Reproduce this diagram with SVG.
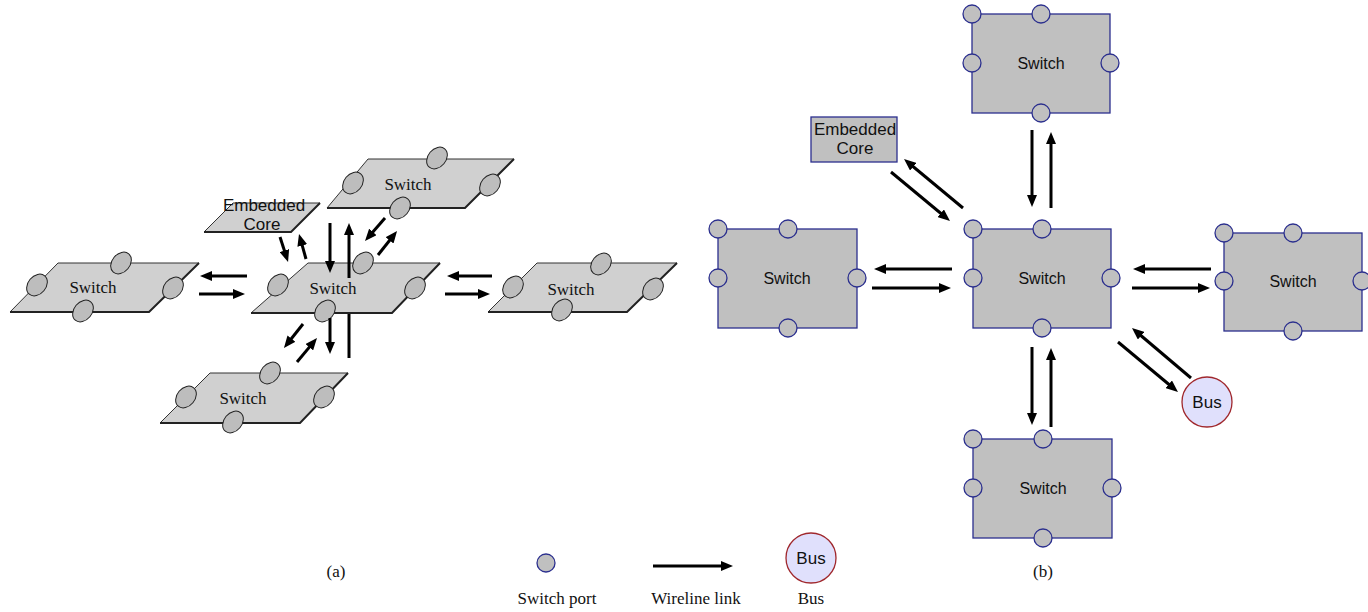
<svg xmlns="http://www.w3.org/2000/svg" width="1368" height="612" viewBox="0 0 1368 612">
<style>
.pg{fill:#d0d0d0;stroke:#333;stroke-width:1}
.sh{fill:none;stroke:#222;stroke-width:2}
.pa{fill:#bdbdbd;stroke:#222;stroke-width:1}
.sw{fill:#c0c0c0;stroke:#2b2f8e;stroke-width:1.3}
.pb{fill:#c0c0c0;stroke:#2b2f8e;stroke-width:1.3}
.bus{fill:#e0e0fc;stroke:#a0282d;stroke-width:1.3}
.ts{font-family:"Liberation Serif","Times New Roman",serif;font-size:17px;fill:#111;text-anchor:middle}
.ta{font-family:"Liberation Sans",Arial,sans-serif;font-size:16px;fill:#111;text-anchor:middle}
.te{font-family:"Liberation Sans",Arial,sans-serif;font-size:17px;fill:#111;text-anchor:middle}
.ar{fill:none;stroke:#000;stroke-width:3;marker-end:url(#ah)}
.ln{fill:none;stroke:#000;stroke-width:3}
</style>
<defs>
<marker id="ah" markerUnits="userSpaceOnUse" markerWidth="12" markerHeight="10" refX="5" refY="5" orient="auto" viewBox="0 0 12 10">
<path d="M0,0 L12,5 L0,10 z" fill="#000"/>
</marker>
</defs>
<rect width="1368" height="612" fill="#fff"/>

<!-- (a) -->
<g id="a-core">
<polygon class="pg" points="233,203 320,203 291,232 204,232"/>
<polyline class="sh" points="204,232 291,232 320,203"/>
<text class="te" x="264" y="211">Embedded</text>
<text class="te" x="262" y="230">Core</text>
</g>
<g id="a-switch-left">
<polygon class="pg" points="58,263 199,263 149,312 10,312"/>
<polyline class="sh" points="10,312 149,312 199,263"/>
<text class="ts" x="93" y="293">Switch</text>
<ellipse class="pa" rx="12" ry="9" transform="translate(121,263) rotate(-50)"/>
<ellipse class="pa" rx="12" ry="9" transform="translate(37,285) rotate(-50)"/>
<ellipse class="pa" rx="12" ry="9" transform="translate(173,288) rotate(-50)"/>
<ellipse class="pa" rx="12" ry="9" transform="translate(83,311) rotate(-50)"/>
</g>
<g id="a-switch-top">
<polygon class="pg" points="368,159 514,159 465,208 327,208"/>
<polyline class="sh" points="327,208 465,208 514,159"/>
<text class="ts" x="408" y="190">Switch</text>
<ellipse class="pa" rx="12" ry="9" transform="translate(437,158) rotate(-50)"/>
<ellipse class="pa" rx="12" ry="9" transform="translate(353,183) rotate(-50)"/>
<ellipse class="pa" rx="12" ry="9" transform="translate(490,185) rotate(-50)"/>
<ellipse class="pa" rx="12" ry="9" transform="translate(400,208) rotate(-50)"/>
</g>
<g id="a-switch-center">
<polygon class="pg" points="308,263 440,263 392,313 251,313"/>
<polyline class="sh" points="251,313 392,313 440,263"/>
<text class="ts" x="333" y="294">Switch</text>
<ellipse class="pa" rx="12" ry="9" transform="translate(363,263) rotate(-50)"/>
<ellipse class="pa" rx="12" ry="9" transform="translate(278,285) rotate(-50)"/>
<ellipse class="pa" rx="12" ry="9" transform="translate(415,288) rotate(-50)"/>
<ellipse class="pa" rx="12" ry="9" transform="translate(325,311) rotate(-50)"/>
</g>
<g id="a-switch-right">
<polygon class="pg" points="537,263 677,263 627,312 488,312"/>
<polyline class="sh" points="488,312 627,312 677,263"/>
<text class="ts" x="571" y="295">Switch</text>
<ellipse class="pa" rx="12" ry="9" transform="translate(601,264) rotate(-50)"/>
<ellipse class="pa" rx="12" ry="9" transform="translate(513,287) rotate(-50)"/>
<ellipse class="pa" rx="12" ry="9" transform="translate(653,289) rotate(-50)"/>
<ellipse class="pa" rx="12" ry="9" transform="translate(562,310) rotate(-50)"/>
</g>
<g id="a-switch-bottom">
<polygon class="pg" points="210,373 348,373 300,423 160,423"/>
<polyline class="sh" points="160,423 300,423 348,373"/>
<text class="ts" x="243" y="404">Switch</text>
<ellipse class="pa" rx="12" ry="9" transform="translate(270,373) rotate(-50)"/>
<ellipse class="pa" rx="12" ry="9" transform="translate(186,397) rotate(-50)"/>
<ellipse class="pa" rx="12" ry="9" transform="translate(324,397) rotate(-50)"/>
<ellipse class="pa" rx="12" ry="9" transform="translate(233,422) rotate(-50)"/>
</g>
<text class="ts" x="336" y="577">(a)</text>

<!-- (b) -->
<g id="b-core">
<rect class="sw" x="811" y="117" width="86" height="45"/>
<text class="te" x="855" y="135">Embedded</text>
<text class="te" x="855" y="154">Core</text>
</g>
<g id="b-switch-top">
<rect class="sw" x="972" y="14" width="138" height="99"/>
<text class="ta" x="1041" y="69">Switch</text>
<circle class="pb" cx="972" cy="14" r="9"/>
<circle class="pb" cx="1041" cy="14" r="9"/>
<circle class="pb" cx="972" cy="63" r="9"/>
<circle class="pb" cx="1110" cy="63" r="9"/>
<circle class="pb" cx="1041" cy="113" r="9"/>
</g>
<g id="b-switch-left">
<rect class="sw" x="718" y="229" width="139" height="99"/>
<text class="ta" x="787" y="284">Switch</text>
<circle class="pb" cx="718" cy="229" r="9"/>
<circle class="pb" cx="788" cy="229" r="9"/>
<circle class="pb" cx="718" cy="278" r="9"/>
<circle class="pb" cx="857" cy="278" r="9"/>
<circle class="pb" cx="788" cy="328" r="9"/>
</g>
<g id="b-switch-center">
<rect class="sw" x="973" y="229" width="138" height="99"/>
<text class="ta" x="1042" y="284">Switch</text>
<circle class="pb" cx="973" cy="229" r="9"/>
<circle class="pb" cx="1042" cy="229" r="9"/>
<circle class="pb" cx="973" cy="278" r="9"/>
<circle class="pb" cx="1111" cy="278" r="9"/>
<circle class="pb" cx="1042" cy="328" r="9"/>
</g>
<g id="b-switch-right">
<rect class="sw" x="1224" y="233" width="138" height="98"/>
<text class="ta" x="1293" y="287">Switch</text>
<circle class="pb" cx="1224" cy="233" r="9"/>
<circle class="pb" cx="1293" cy="233" r="9"/>
<circle class="pb" cx="1224" cy="281" r="9"/>
<circle class="pb" cx="1362" cy="281" r="9"/>
<circle class="pb" cx="1293" cy="331" r="9"/>
</g>
<g id="b-switch-bottom">
<rect class="sw" x="973" y="439" width="139" height="99"/>
<text class="ta" x="1043" y="494">Switch</text>
<circle class="pb" cx="973" cy="439" r="9"/>
<circle class="pb" cx="1043" cy="439" r="9"/>
<circle class="pb" cx="973" cy="488" r="9"/>
<circle class="pb" cx="1112" cy="488" r="9"/>
<circle class="pb" cx="1043" cy="538" r="9"/>
</g>
<g id="b-bus">
<circle class="bus" cx="1207" cy="402" r="25"/>
<text class="te" x="1207" y="408">Bus</text>
</g>
<text class="ts" x="1043" y="577">(b)</text>

<!-- connectors -->
<g id="connectors">
<line class="ar" x1="247" y1="276" x2="207" y2="276"/>
<line class="ar" x1="199" y1="294" x2="238" y2="294"/>
<line class="ar" x1="492" y1="276" x2="454" y2="276"/>
<line class="ar" x1="445" y1="294" x2="483" y2="294"/>
<line class="ar" x1="280" y1="237" x2="285.9" y2="255.3"/>
<line class="ar" x1="306" y1="259" x2="300.9" y2="240.7"/>
<line class="ar" x1="330" y1="223" x2="330" y2="266"/>
<line class="ar" x1="349" y1="278" x2="349" y2="230"/>
<line class="ln" x1="349" y1="314" x2="349" y2="358"/>
<line class="ar" x1="385" y1="218" x2="369.6" y2="235.7"/>
<line class="ar" x1="378" y1="255" x2="392.7" y2="236.5"/>
<line class="ar" x1="303" y1="324" x2="288.3" y2="342.5"/>
<line class="ar" x1="297" y1="362" x2="312.5" y2="343.4"/>
<line class="ar" x1="330" y1="318" x2="330" y2="347"/>

<line class="ar" x1="1032" y1="130" x2="1032" y2="200"/>
<line class="ar" x1="1051" y1="208" x2="1051" y2="139"/>
<line class="ar" x1="891" y1="172" x2="944.6" y2="216.5"/>
<line class="ar" x1="963" y1="208" x2="909.4" y2="163.5"/>
<line class="ar" x1="952" y1="269" x2="881" y2="269"/>
<line class="ar" x1="872" y1="288" x2="944" y2="288"/>
<line class="ar" x1="1211" y1="269" x2="1140" y2="269"/>
<line class="ar" x1="1132" y1="288" x2="1203" y2="288"/>
<line class="ar" x1="1118" y1="342" x2="1172.6" y2="387.5"/>
<line class="ar" x1="1191" y1="378" x2="1137.3" y2="332.5"/>
<line class="ar" x1="1032" y1="347" x2="1032" y2="418"/>
<line class="ar" x1="1051" y1="427" x2="1051" y2="355"/>
</g>

<!-- legend -->
<g id="legend">
<circle class="pb" cx="546" cy="563" r="9"/>
<text class="ts" x="557" y="604">Switch port</text>
<line class="ar" x1="653" y1="566" x2="726" y2="566"/>
<text class="ts" x="696" y="604">Wireline link</text>
<circle class="bus" cx="811" cy="558" r="25"/>
<text class="te" x="811" y="564">Bus</text>
<text class="ts" x="811" y="604">Bus</text>
</g>
</svg>
